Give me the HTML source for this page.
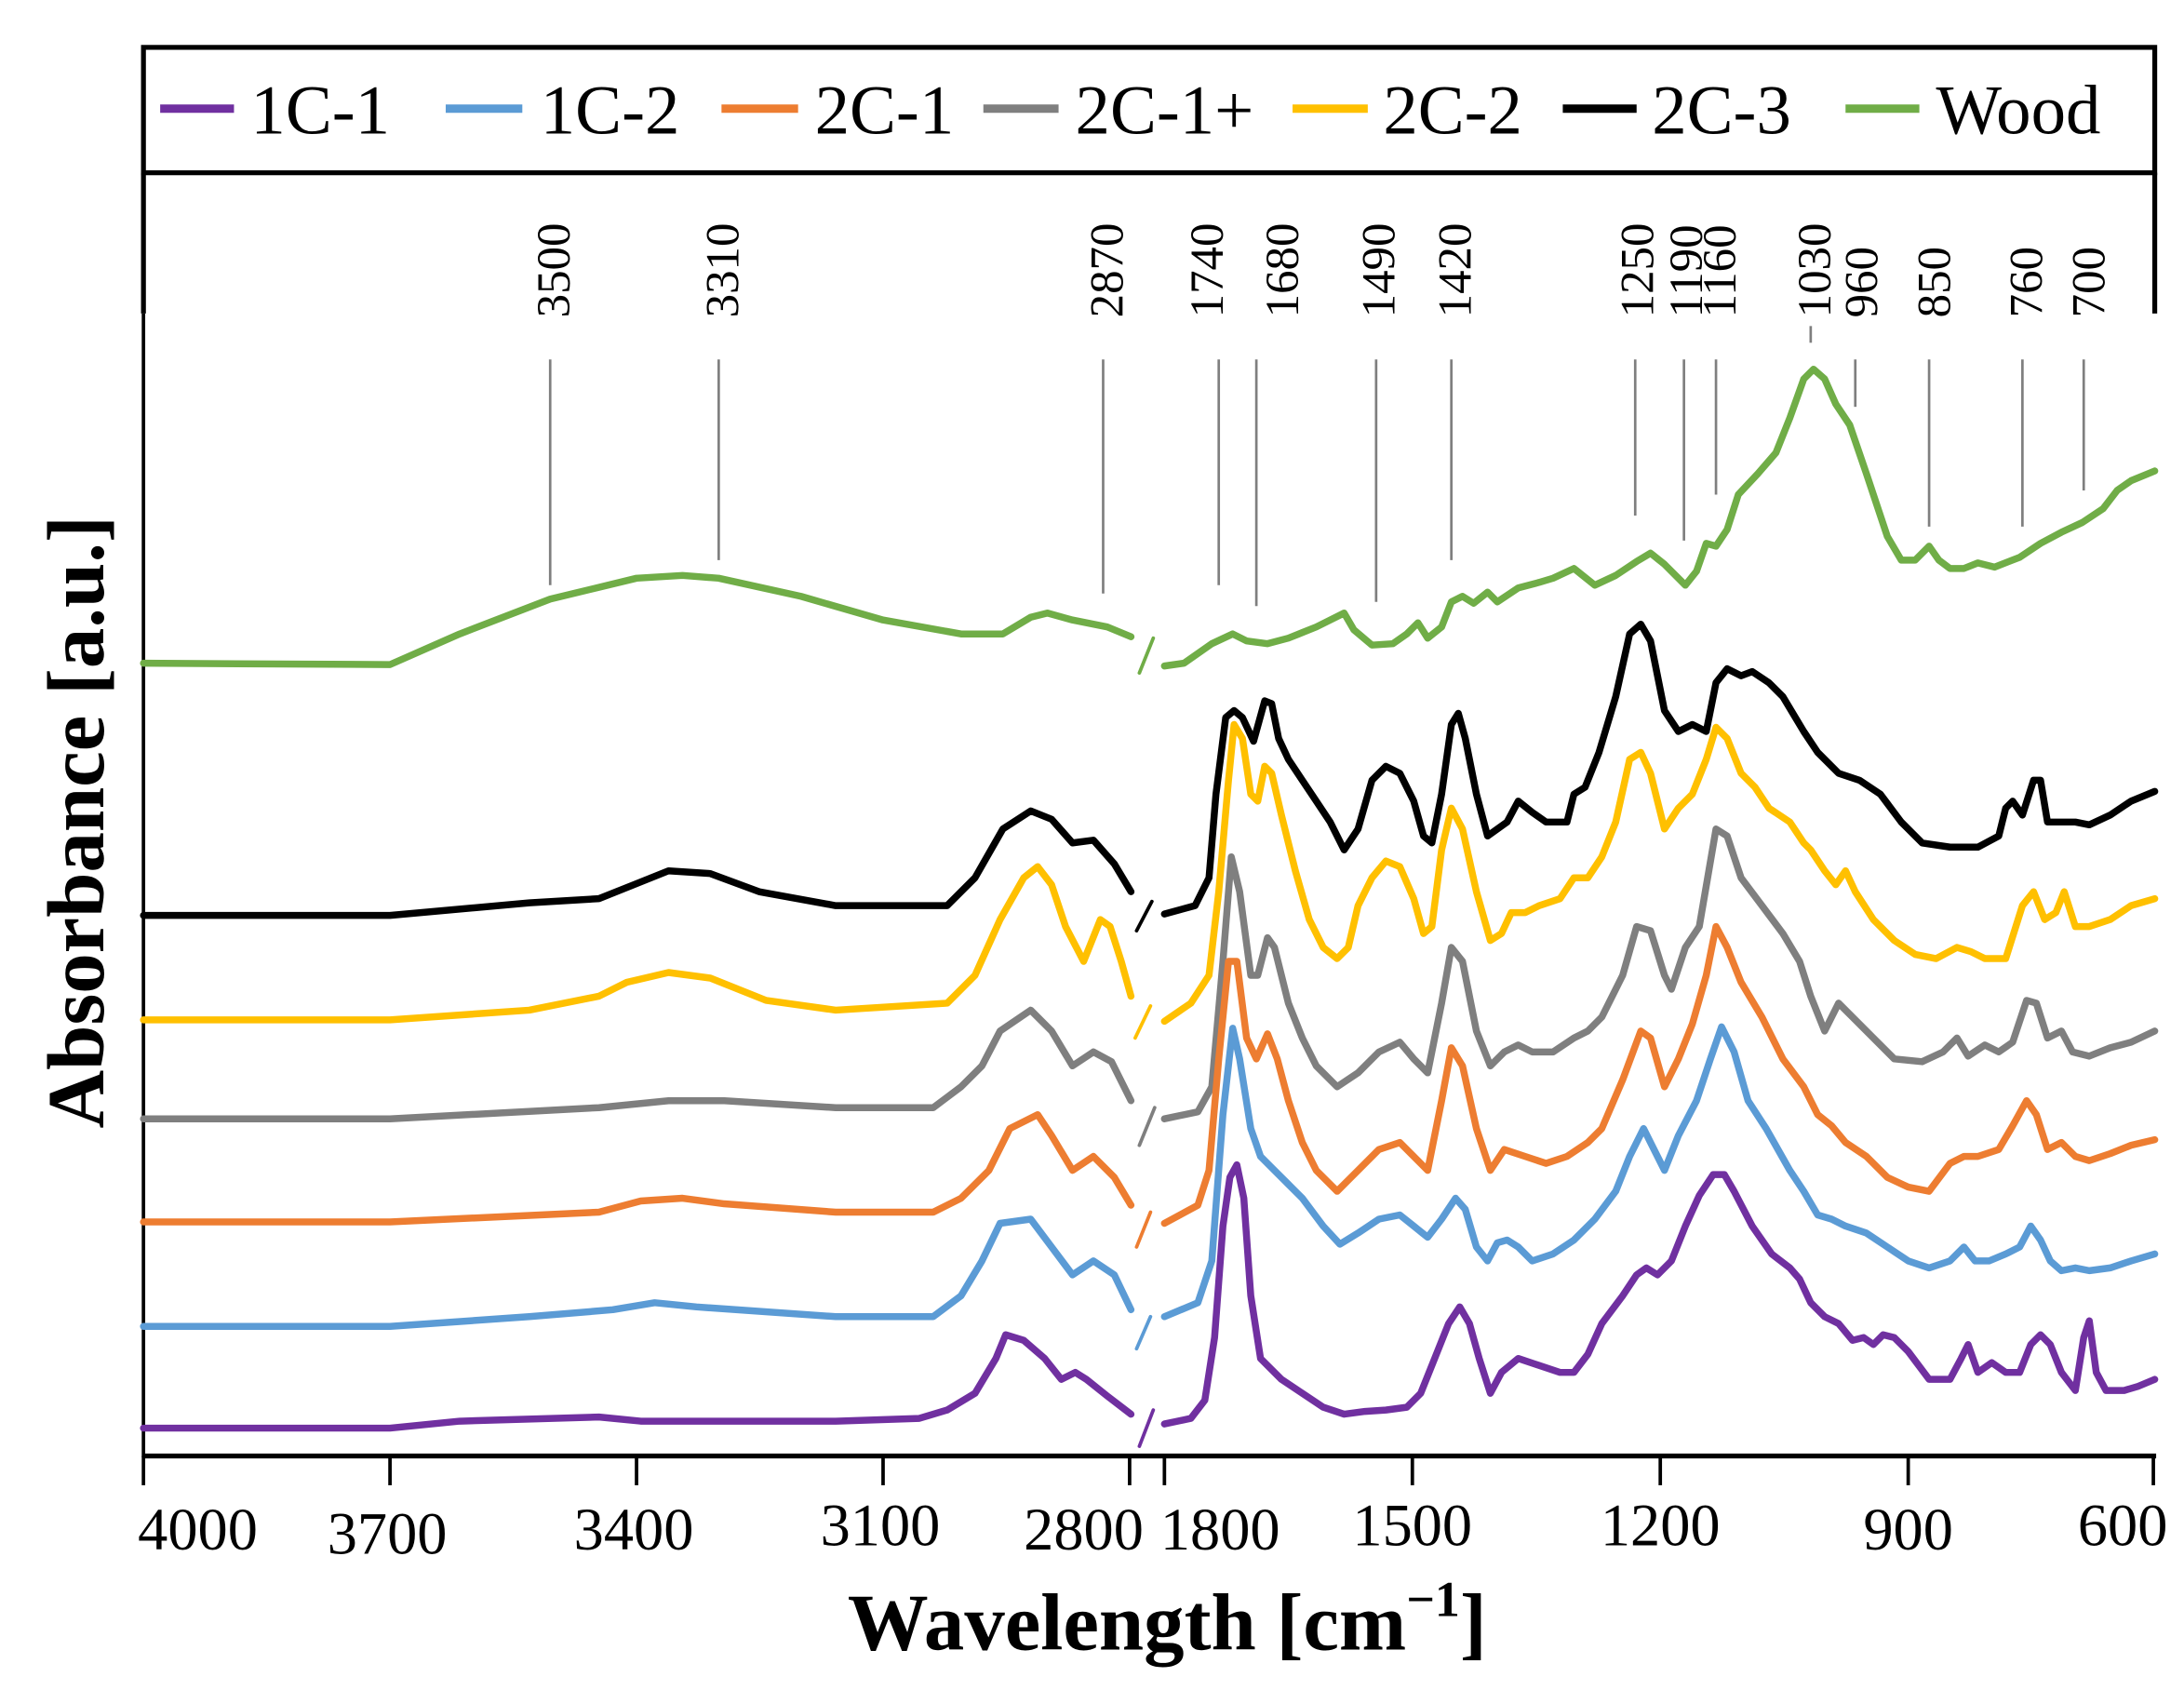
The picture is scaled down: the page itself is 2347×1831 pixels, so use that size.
<!DOCTYPE html>
<html><head><meta charset="utf-8"><style>html,body{margin:0;padding:0;background:#fff}svg{display:block}</style></head>
<body>
<svg width="2347" height="1831" viewBox="0 0 1568 1223" preserveAspectRatio="none" xmlns="http://www.w3.org/2000/svg" font-family="'Liberation Serif',serif">
<rect width="1568" height="1223" fill="#fff"/>
<rect x="103" y="34" width="1444" height="90" fill="none" stroke="#000" stroke-width="3.5"/>
<line x1="103" y1="124" x2="103" y2="225" stroke="#000" stroke-width="3.5"/>
<line x1="1547" y1="124" x2="1547" y2="225" stroke="#000" stroke-width="3.5"/>
<g stroke-width="6">
<line x1="115" y1="78" x2="168" y2="78" stroke="#7030a0"/>
<line x1="320" y1="78" x2="375" y2="78" stroke="#5b9bd5"/>
<line x1="518" y1="78" x2="573" y2="78" stroke="#ed7d31"/>
<line x1="706" y1="78" x2="760" y2="78" stroke="#7f7f7f"/>
<line x1="928" y1="78" x2="982" y2="78" stroke="#ffc000"/>
<line x1="1122" y1="78" x2="1175" y2="78" stroke="#000"/>
<line x1="1325" y1="78" x2="1378" y2="78" stroke="#70ad47"/>
</g>
<g font-size="50" fill="#000">
<text x="180" y="96">1C-1</text><text x="388" y="96">1C-2</text><text x="585" y="96">2C-1</text>
<text x="772" y="96">2C-1+</text><text x="993" y="96">2C-2</text><text x="1186" y="96">2C-3</text><text x="1390" y="96">Wood</text>
</g>
<line x1="103" y1="225" x2="103" y2="1046" stroke="#000" stroke-width="2.5"/>
<line x1="102" y1="1045" x2="1548" y2="1045" stroke="#000" stroke-width="3.5"/>
<g stroke="#000" stroke-width="2.5">
<line x1="103" y1="1045" x2="103" y2="1066"/><line x1="280" y1="1045" x2="280" y2="1066"/><line x1="457" y1="1045" x2="457" y2="1066"/>
<line x1="634" y1="1045" x2="634" y2="1066"/><line x1="811" y1="1045" x2="811" y2="1066"/><line x1="836" y1="1045" x2="836" y2="1066"/>
<line x1="1014" y1="1045" x2="1014" y2="1066"/><line x1="1192" y1="1045" x2="1192" y2="1066"/><line x1="1370" y1="1045" x2="1370" y2="1066"/><line x1="1546" y1="1045" x2="1546" y2="1066"/>
</g>
<g font-size="43" text-anchor="middle">
<text x="142" y="1112">4000</text><text x="278" y="1115">3700</text><text x="455" y="1112">3400</text><text x="632" y="1109">3100</text>
<text x="778" y="1112">2800</text><text x="876" y="1112">1800</text><text x="1014" y="1109">1500</text><text x="1192" y="1109">1200</text>
<text x="1370" y="1112">900</text><text x="1524" y="1109">600</text>
</g>
<text x="838" y="1184" font-size="58" font-weight="bold" text-anchor="middle">Wavelength [cm<tspan font-size="36" dy="-24">−1</tspan><tspan dy="24">]</tspan></text>
<text transform="translate(74,590) rotate(-90)" font-size="58" font-weight="bold" text-anchor="middle">Absorbance [a.u.]</text>
<g stroke="#7f7f7f" stroke-width="1.8">
<line x1="395" y1="258" x2="395" y2="420"/><line x1="516" y1="258" x2="516" y2="402"/><line x1="792" y1="258" x2="792" y2="426"/>
<line x1="875" y1="258" x2="875" y2="420"/><line x1="902" y1="258" x2="902" y2="435"/><line x1="988" y1="258" x2="988" y2="432"/>
<line x1="1042" y1="258" x2="1042" y2="402"/><line x1="1174" y1="258" x2="1174" y2="370"/><line x1="1209" y1="258" x2="1209" y2="388"/>
<line x1="1232" y1="258" x2="1232" y2="355"/><line x1="1300" y1="234" x2="1300" y2="246"/><line x1="1332" y1="258" x2="1332" y2="292"/>
<line x1="1385" y1="258" x2="1385" y2="378"/><line x1="1452" y1="258" x2="1452" y2="378"/><line x1="1496" y1="258" x2="1496" y2="352"/>
</g>
<g font-size="34" fill="#000">
<text transform="translate(409,228) rotate(-90)">3500</text><text transform="translate(530,228) rotate(-90)">3310</text>
<text transform="translate(806,228) rotate(-90)">2870</text><text transform="translate(878,228) rotate(-90)">1740</text>
<text transform="translate(932,228) rotate(-90)">1680</text><text transform="translate(1001,228) rotate(-90)">1490</text>
<text transform="translate(1056,228) rotate(-90)">1420</text><text transform="translate(1187,228) rotate(-90)">1250</text>
<text transform="translate(1222,228) rotate(-90)">1190</text><text transform="translate(1246,228) rotate(-90)">1160</text>
<text transform="translate(1314,228) rotate(-90)">1030</text><text transform="translate(1348,228) rotate(-90)">960</text>
<text transform="translate(1400,228) rotate(-90)">850</text><text transform="translate(1466,228) rotate(-90)">760</text>
<text transform="translate(1511,228) rotate(-90)">700</text>
</g>
<g fill="none" stroke-width="5" stroke-linejoin="round" stroke-linecap="round">
<g stroke="#70ad47">
<polyline points="103,476 280,477 330,455 395,430 457,415 490,413 516,415 575,428 634,445 690,455 720,455 740,443 752,440 770,445 795,450 812,457"/>
<polyline points="836,478 850,476 870,462 885,455 895,460 910,462 925,458 945,450 965,440 972,452 985,463 1000,462 1010,455 1018,447 1025,458 1035,450 1042,432 1050,428 1058,433 1068,425 1075,432 1090,422 1105,418 1115,415 1130,408 1145,420 1160,413 1175,403 1185,397 1195,405 1210,420 1218,410 1225,390 1232,392 1240,380 1248,355 1262,340 1275,325 1285,300 1295,272 1302,265 1310,272 1318,290 1328,305 1340,340 1355,385 1365,402 1375,402 1385,392 1392,402 1400,408 1410,408 1420,404 1432,407 1450,400 1465,390 1480,382 1495,375 1510,365 1520,352 1530,345 1547,338"/>
<line x1="818" y1="483" x2="828" y2="458" stroke-width="2.5"/>
</g>
<g stroke="#000">
<polyline points="103,657 280,657 380,648 430,645 455,635 480,625 510,627 545,640 600,650 680,650 700,630 720,595 740,582 755,588 770,605 785,603 800,620 812,640"/>
<polyline points="836,656 858,650 868,630 873,570 880,515 886,510 892,515 900,532 908,503 913,505 918,530 925,545 935,560 945,575 955,590 965,610 975,595 985,560 995,550 1005,555 1015,575 1022,600 1028,605 1035,570 1042,520 1047,512 1052,530 1060,570 1068,600 1075,595 1082,590 1090,575 1100,583 1110,590 1125,590 1130,570 1138,565 1148,540 1160,500 1170,455 1178,448 1185,460 1195,510 1205,525 1215,520 1225,525 1232,490 1240,480 1250,485 1258,482 1270,490 1280,500 1295,525 1305,540 1320,555 1335,560 1350,570 1365,590 1380,605 1400,608 1420,608 1435,600 1440,580 1445,575 1452,585 1460,560 1465,560 1470,590 1480,590 1490,590 1500,592 1515,585 1530,575 1547,568"/>
<line x1="816" y1="668" x2="827" y2="647" stroke-width="2.5"/>
</g>
<g stroke="#ffc000">
<polyline points="103,732 280,732 380,725 430,715 450,705 480,698 510,702 550,718 600,725 680,720 700,700 718,660 735,630 745,622 755,635 765,665 778,690 790,660 797,665 805,690 812,715"/>
<polyline points="836,733 855,720 868,700 875,640 882,560 886,520 892,530 898,570 903,575 908,550 913,555 920,585 930,625 940,660 950,680 960,688 968,680 975,650 985,630 995,618 1005,622 1015,645 1022,670 1028,665 1035,610 1042,580 1050,595 1060,640 1070,675 1078,670 1085,655 1095,655 1105,650 1120,645 1130,630 1140,630 1150,615 1160,590 1170,545 1178,540 1185,555 1195,595 1205,580 1215,570 1225,545 1232,522 1240,530 1250,555 1260,565 1270,580 1285,590 1295,605 1300,610 1310,625 1318,635 1325,625 1332,640 1345,660 1360,675 1375,685 1390,688 1405,680 1415,683 1425,688 1440,688 1452,650 1460,640 1468,660 1476,655 1482,640 1490,665 1500,665 1515,660 1530,650 1547,645"/>
<line x1="815" y1="745" x2="826" y2="722" stroke-width="2.5"/>
</g>
<g stroke="#7f7f7f">
<polyline points="103,803 280,803 430,795 480,790 520,790 600,795 670,795 690,780 705,765 718,740 740,725 755,740 770,765 785,755 798,762 812,790"/>
<polyline points="836,803 860,798 870,780 878,690 884,615 890,640 898,700 903,700 910,673 915,680 925,720 935,745 945,765 960,780 975,770 990,755 1005,748 1015,760 1025,770 1035,720 1042,680 1050,690 1060,740 1070,765 1080,755 1090,750 1100,755 1115,755 1130,745 1140,740 1150,730 1165,700 1175,665 1185,668 1195,700 1200,710 1210,680 1220,665 1232,595 1240,600 1250,630 1265,650 1280,670 1292,690 1300,715 1310,740 1320,720 1330,730 1345,745 1360,760 1380,762 1395,755 1405,745 1413,758 1425,750 1435,755 1445,748 1455,718 1462,720 1470,745 1480,740 1488,755 1500,758 1515,752 1530,748 1547,740"/>
<line x1="818" y1="822" x2="829" y2="795" stroke-width="2.5"/>
</g>
<g stroke="#ed7d31">
<polyline points="103,877 280,877 430,870 460,862 490,860 520,864 600,870 670,870 690,860 710,840 725,810 745,800 755,815 770,840 785,830 800,845 812,865"/>
<polyline points="836,878 860,865 868,840 875,760 882,690 888,690 895,745 902,760 910,742 917,760 925,790 935,820 945,840 960,855 975,840 990,825 1005,820 1015,830 1025,840 1035,790 1042,752 1050,765 1060,810 1070,840 1080,825 1095,830 1110,835 1125,830 1140,820 1150,810 1165,775 1178,740 1185,745 1195,780 1205,760 1215,735 1225,700 1232,665 1240,680 1250,705 1265,730 1280,760 1295,780 1305,800 1315,808 1325,820 1340,830 1355,845 1370,852 1385,855 1400,835 1410,830 1420,830 1435,825 1445,808 1455,790 1462,800 1470,825 1480,820 1490,830 1500,833 1515,828 1530,822 1547,818"/>
<line x1="816" y1="895" x2="826" y2="870" stroke-width="2.5"/>
</g>
<g stroke="#5b9bd5">
<polyline points="103,952 280,952 380,945 440,940 470,935 500,938 600,945 670,945 690,930 705,905 718,878 740,875 755,895 770,915 785,905 800,915 812,940"/>
<polyline points="836,945 860,935 870,905 878,800 885,738 890,760 898,810 905,830 915,840 925,850 935,860 950,880 962,893 975,885 990,875 1005,872 1015,880 1025,888 1035,875 1045,860 1052,868 1060,895 1068,905 1075,892 1082,890 1090,895 1100,905 1115,900 1130,890 1145,875 1160,855 1170,830 1180,810 1185,820 1195,840 1205,815 1218,790 1228,760 1236,737 1245,755 1255,790 1268,810 1285,840 1295,855 1305,872 1315,875 1325,880 1340,885 1355,895 1370,905 1385,910 1400,905 1410,895 1418,905 1428,905 1440,900 1450,895 1458,880 1465,890 1472,905 1480,912 1490,910 1500,912 1515,910 1530,905 1547,900"/>
<line x1="816" y1="968" x2="826" y2="945" stroke-width="2.5"/>
</g>
<g stroke="#7030a0">
<polyline points="103,1025 280,1025 330,1020 430,1017 460,1020 600,1020 660,1018 680,1012 700,1000 715,975 722,958 735,962 750,975 762,990 772,985 780,990 795,1002 812,1015"/>
<polyline points="836,1022 855,1018 865,1005 872,960 878,880 883,845 888,836 893,860 898,930 905,975 920,990 935,1000 950,1010 965,1015 980,1013 995,1012 1010,1010 1020,1000 1030,975 1040,950 1048,938 1055,950 1062,975 1070,1000 1078,985 1090,975 1105,980 1120,985 1130,985 1140,972 1150,950 1165,930 1175,915 1182,910 1190,915 1200,905 1210,880 1220,858 1230,843 1238,843 1245,855 1258,880 1272,900 1285,910 1292,918 1300,935 1310,945 1320,950 1330,962 1338,960 1345,965 1352,958 1360,960 1370,970 1385,990 1400,990 1408,975 1413,965 1420,985 1430,978 1440,985 1450,985 1458,965 1465,958 1472,965 1480,985 1490,998 1496,960 1500,948 1505,985 1512,998 1525,998 1535,995 1547,990"/>
<line x1="818" y1="1038" x2="828" y2="1012" stroke-width="2.5"/>
</g>
</g>
</svg>
</body></html>
